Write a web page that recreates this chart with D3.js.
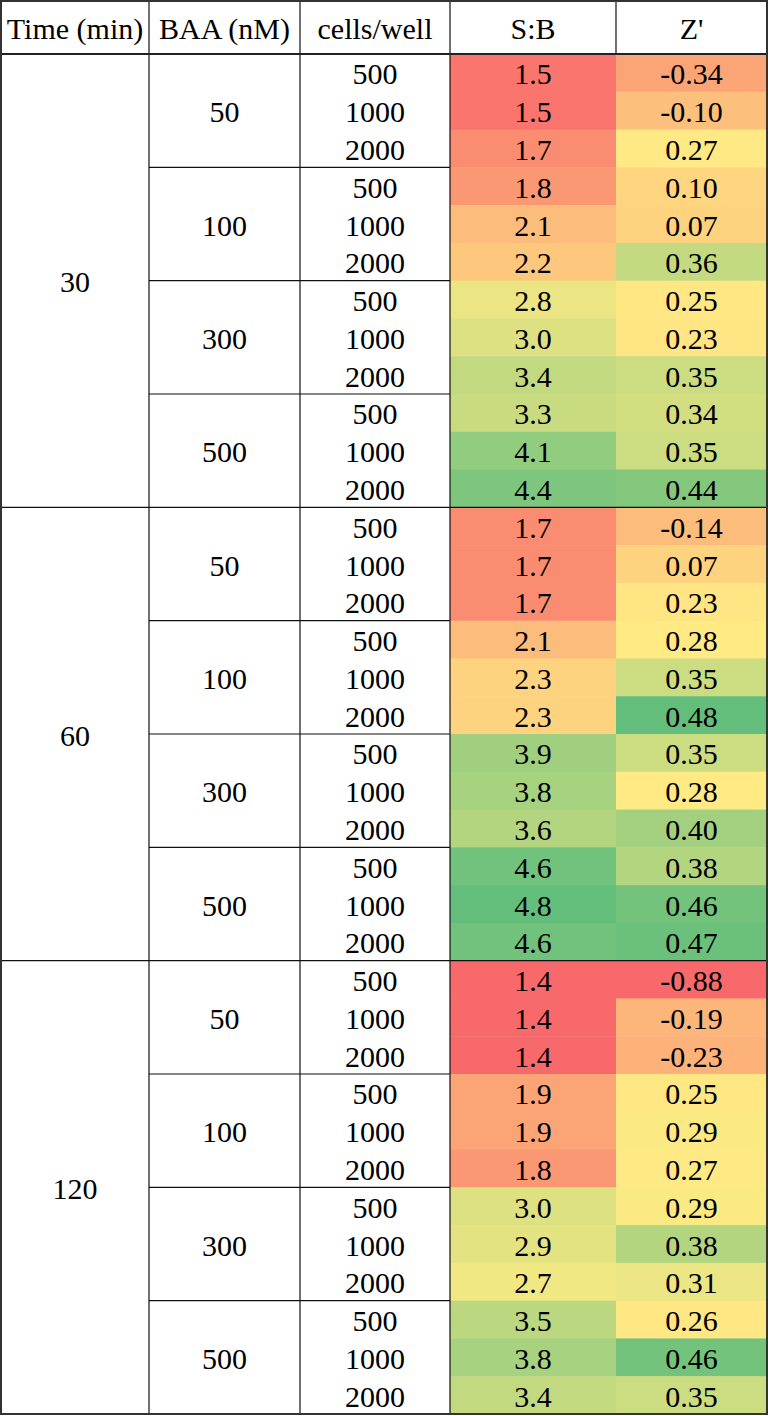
<!DOCTYPE html>
<html>
<head>
<meta charset="utf-8">
<script src="https://cdn.jsdelivr.net/npm/d3@7"></script>
<style>
  html, body { margin: 0; padding: 0; background: #fff; }
  text { font-family: "Liberation Serif", "Times New Roman", serif; font-size: 30px; fill: #000; }
</style>
</head>
<body>
<svg id="chart" width="768" height="1416"></svg>
<script>
'use strict';

// table data
const headers = ["Time (min)", "BAA (nM)", "cells/well", "S:B", "Z'"];
const times = ["30", "60", "120"];
const baa = ["50", "100", "300", "500"];
const cells = ["500", "1000", "2000"];

const sbValues = [
    1.5, 1.5, 1.7, 1.8, 2.1, 2.2, 2.8, 3.0, 3.4, 3.3, 4.1, 4.4,
    1.7, 1.7, 1.7, 2.1, 2.3, 2.3, 3.9, 3.8, 3.6, 4.6, 4.8, 4.6,
    1.4, 1.4, 1.4, 1.9, 1.9, 1.8, 3.0, 2.9, 2.7, 3.5, 3.8, 3.4
];
const zValues = [
    -0.34, -0.10, 0.27, 0.10, 0.07, 0.36, 0.25, 0.23, 0.35, 0.34, 0.35, 0.44,
    -0.14, 0.07, 0.23, 0.28, 0.35, 0.48, 0.35, 0.28, 0.40, 0.38, 0.46, 0.47,
    -0.88, -0.19, -0.23, 0.25, 0.29, 0.27, 0.29, 0.38, 0.31, 0.26, 0.46, 0.35
];

const svg = d3.select("#chart");
const W = 768, H = 1416;

// column edges
const colX = [1, 149, 300, 450, 616, 767];
const headerBottom = 54;
const nRows = times.length * baa.length * cells.length;

const y = d3.scaleBand()
    .domain(d3.range(nRows))
    .range([headerBottom, H - 2]);

// excel style 3-colour scale: min red, median yellow, max green
function colorScale(values) {
    const sorted = values.slice().sort(d3.ascending);
    return d3.scaleLinear()
        .domain([d3.min(values), d3.quantile(sorted, 0.5), d3.max(values)])
        .range(["#F8696B", "#FFEB84", "#63BE7B"])
        .interpolate(d3.interpolateRgb);
}
const sbColor = colorScale(sbValues);
const zColor = colorScale(zValues);

const rows = d3.range(nRows).map(i => ({
    i: i,
    cells: cells[i % cells.length],
    sb: sbValues[i],
    z: zValues[i]
}));

// coloured cells
const g = svg.append("g");
g.selectAll("rect.sb")
    .data(rows)
    .enter()
    .append("rect")
    .attr("class", "sb")
    .attr("x", colX[3])
    .attr("y", d => y(d.i))
    .attr("width", colX[4] - colX[3])
    .attr("height", y.bandwidth() + 0.5)
    .attr("fill", d => sbColor(d.sb));

g.selectAll("rect.z")
    .data(rows)
    .enter()
    .append("rect")
    .attr("class", "z")
    .attr("x", colX[4])
    .attr("y", d => y(d.i))
    .attr("width", colX[5] - colX[4])
    .attr("height", y.bandwidth() + 0.5)
    .attr("fill", d => zColor(d.z));

const mid = k => (colX[k] + colX[k + 1]) / 2;

// header
svg.selectAll("text.header")
    .data(headers)
    .enter()
    .append("text")
    .attr("class", "header")
    .attr("x", (d, k) => mid(k))
    .attr("y", headerBottom / 2 + 1)
    .attr("text-anchor", "middle")
    .attr("dominant-baseline", "central")
    .text(d => d);

// row texts
const rowText = (k, fn) => {
    svg.append("g").selectAll("text")
        .data(rows)
        .enter()
        .append("text")
        .attr("x", mid(k))
        .attr("y", d => y(d.i) + y.bandwidth() / 2 + 1)
        .attr("text-anchor", "middle")
        .attr("dominant-baseline", "central")
        .text(fn);
};
rowText(2, d => d.cells);
rowText(3, d => d.sb.toFixed(1));
rowText(4, d => d.z.toFixed(2));

// group labels
const perTime = baa.length * cells.length;
svg.append("g").selectAll("text")
    .data(times)
    .enter()
    .append("text")
    .attr("x", mid(0))
    .attr("y", (d, t) => (y(t * perTime) + y(t * perTime + perTime - 1) + y.bandwidth()) / 2 + 1)
    .attr("text-anchor", "middle")
    .attr("dominant-baseline", "central")
    .text(d => d);

const baaGroups = [];
times.forEach((t, ti) => baa.forEach((b, bi) => baaGroups.push({ label: b, start: ti * perTime + bi * cells.length })));
svg.append("g").selectAll("text")
    .data(baaGroups)
    .enter()
    .append("text")
    .attr("x", mid(1))
    .attr("y", d => (y(d.start) + y(d.start + cells.length - 1) + y.bandwidth()) / 2 + 1)
    .attr("text-anchor", "middle")
    .attr("dominant-baseline", "central")
    .text(d => d.label);

// grid lines
const lines = svg.append("g").attr("stroke", "#111").attr("stroke-width", 1.2).attr("fill", "none");

// vertical lines through the body
[1, 2, 3].forEach(k => {
    lines.append("line")
        .attr("x1", colX[k]).attr("x2", colX[k])
        .attr("y1", 1).attr("y2", H - 2);
});
// S:B / Z' divider only in header
lines.append("line")
    .attr("x1", colX[4]).attr("x2", colX[4])
    .attr("y1", 1).attr("y2", headerBottom);

// time group separators, full width
d3.range(1, times.length).forEach(t => {
    const yy = y(t * perTime);
    lines.append("line")
        .attr("x1", colX[0]).attr("x2", colX[5])
        .attr("y1", yy).attr("y2", yy);
});
// BAA group separators, middle columns only
baaGroups.filter(d => d.start % perTime !== 0).forEach(d => {
    const yy = y(d.start);
    lines.append("line")
        .attr("x1", colX[1]).attr("x2", colX[3])
        .attr("y1", yy).attr("y2", yy);
});

// header bottom and outer border
svg.append("line")
    .attr("x1", colX[0]).attr("x2", colX[5])
    .attr("y1", headerBottom).attr("y2", headerBottom)
    .attr("stroke", "#222").attr("stroke-width", 2);

svg.append("rect")
    .attr("x", 1).attr("y", 1)
    .attr("width", W - 2).attr("height", H - 3)
    .attr("fill", "none")
    .attr("stroke", "#333")
    .attr("stroke-width", 2);
</script>
</body>
</html>
